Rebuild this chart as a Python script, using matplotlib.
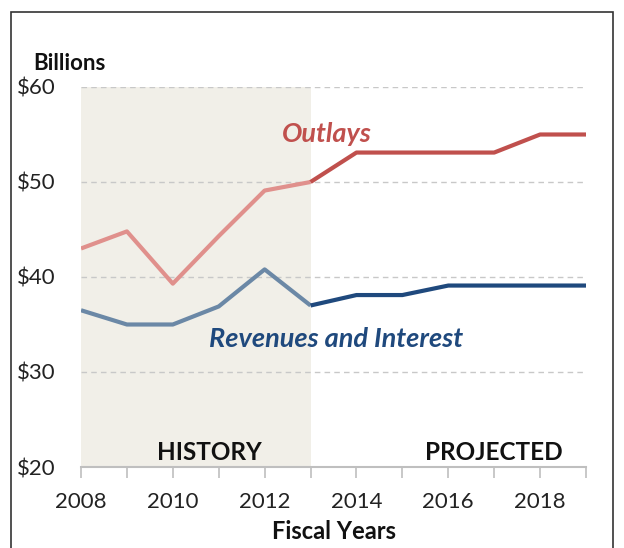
import matplotlib
matplotlib.use("Agg")
import matplotlib.pyplot as plt
from matplotlib.patches import Rectangle

years = [2008, 2009, 2010, 2011, 2012, 2013, 2014, 2015, 2016, 2017, 2018, 2019]
outlays = [43.0, 44.8, 39.3, 44.3, 49.1, 50.0, 53.1, 53.1, 53.1, 53.1, 55.0, 55.0]
revenues = [36.5, 35.0, 35.0, 36.9, 40.8, 37.0, 38.1, 38.1, 39.1, 39.1, 39.1, 39.1]
history_end = 2013
yticks = [20, 30, 40, 50, 60]
ytick_labels = ["$20", "$30", "$40", "$50", "$60"]
xticks_major = [2008, 2010, 2012, 2014, 2016, 2018]

plt.rcParams['font.family'] = ['Lato', 'DejaVu Sans']

W, H = 624, 548
fig = plt.figure(figsize=(W / 100, H / 100), dpi=100)
ax = fig.add_axes([81 / W, 1 - 467 / H, (586 - 81) / W, (467 - 87) / H])

# frame around the figure
fig.patches.append(Rectangle((11 / W, -0.05), (613 - 11) / W, 1.05 - 12 / H,
                             transform=fig.transFigure, fill=False,
                             edgecolor='#333333', linewidth=1.2))

ax.axvspan(years[0], history_end, color='#f1efe8', zorder=0, lw=0)

for y in yticks[1:]:
    ax.axhline(y, color='#c8c8c8', lw=1, ls=(0, (4, 3)), zorder=1)

hi = years.index(history_end)
ax.plot(years[:hi + 1], outlays[:hi + 1], color='#e0908c', lw=3, zorder=3, solid_capstyle='butt')
ax.plot(years[hi:], outlays[hi:], color='#c0504d', lw=3, zorder=3, solid_capstyle='butt')
ax.plot(years[:hi + 1], revenues[:hi + 1], color='#6b88a6', lw=3, zorder=3, solid_capstyle='butt')
ax.plot(years[hi:], revenues[hi:], color='#1f497d', lw=3, zorder=3, solid_capstyle='butt')

ax.set_xlim(years[0], years[-1])
ax.set_ylim(yticks[0], yticks[-1])

for s in ['top', 'right', 'left']:
    ax.spines[s].set_visible(False)
ax.spines['bottom'].set_color('#bfbfbf')
ax.spines['bottom'].set_linewidth(1.5)

ax.set_yticks(yticks)
ax.set_yticklabels(ytick_labels, fontsize=16, color='#222222', ha='left')
ax.tick_params(axis='y', length=0, pad=46)
ax.set_xticks(years, minor=True)
ax.set_xticks(xticks_major)
ax.set_xticklabels([str(x) for x in xticks_major], fontsize=16, color='#222222')
ax.tick_params(axis='x', which='both', length=8, color='#bfbfbf', width=1.2, pad=10)

ax.set_xlabel("Fiscal Years", fontsize=17, fontweight='bold', labelpad=6, color='#111111')

fig.text(33 / W, 1 - 64 / H, "Billions", fontsize=16, fontweight='bold', ha='left', va='center', color='#111111')

ax.text(2010.8, 20.35, "HISTORY", fontsize=17.5, fontweight='bold', ha='center', va='bottom', color='#111111')
ax.text(2017.0, 20.35, "PROJECTED", fontsize=17.5, fontweight='bold', ha='center', va='bottom', color='#111111')
ax.text(2013.35, 55.1, "Outlays", fontsize=19.5, fontweight='bold', style='italic', ha='center', va='center', color='#c0504d')
ax.text(2013.56, 33.5, "Revenues and Interest", fontsize=19.5, fontweight='bold', style='italic', ha='center', va='center', color='#1f497d')

fig.savefig("out.png", dpi=100)
